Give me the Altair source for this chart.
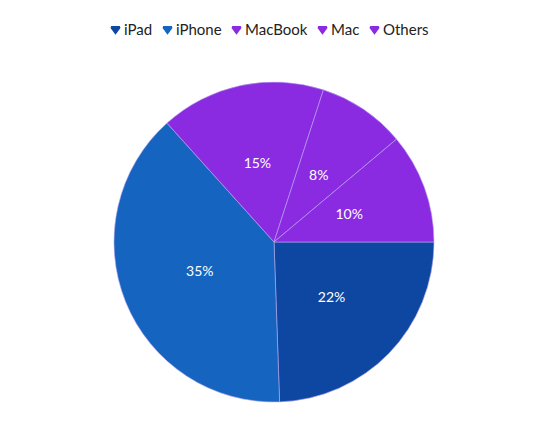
import altair as alt
import pandas as pd
import math

categories = ["iPad", "iPhone", "MacBook", "Mac", "Others"]
values = [22, 35, 15, 8, 10]
labels = ["22%", "35%", "15%", "8%", "10%"]
colors = ["#0D47A1", "#1565C0", "#8A2BE2", "#8A2BE2", "#8A2BE2"]

df = pd.DataFrame({"category": categories, "value": values, "label": labels,
                   "order": list(range(len(categories)))})

theta = alt.Theta("value:Q", stack=True,
                  scale=alt.Scale(range=[math.pi / 2, math.pi / 2 + 2 * math.pi]))
order = alt.Order("order:Q")

gem = "M-0.85,-0.75 L0.85,-0.75 L1,-0.35 L0,1 L-1,-0.35 Z"

pie = alt.Chart(df).mark_arc(outerRadius=160, stroke="#b9a6f0", strokeWidth=0.6).encode(
    theta=theta,
    order=order,
    x=alt.value(266),
    y=alt.value(234),
    color=alt.Color("category:N",
                    scale=alt.Scale(domain=categories, range=colors),
                    sort=categories,
                    legend=alt.Legend(title=None, orient="none", direction="horizontal",
                                      legendX=100, legendY=14, symbolType=gem,
                                      symbolSize=100, symbolStrokeWidth=0,
                                      labelFont="Lato", labelFontSize=15,
                                      labelColor="#222222", columnPadding=7,
                                      labelOffset=1)),
)

text = alt.Chart(df).mark_text(radius=80, fontSize=14, font="Lato",
                               color="white").encode(
    theta=theta,
    order=order,
    x=alt.value(266),
    y=alt.value(234),
    text="label:N",
)

chart = (pie + text).properties(
    width=532, height=407, padding=0, background="white",
    autosize=alt.AutoSizeParams(type="none"),
).configure_view(stroke=None)

chart.save("out.html", embed_options={"renderer": "svg", "actions": False})
